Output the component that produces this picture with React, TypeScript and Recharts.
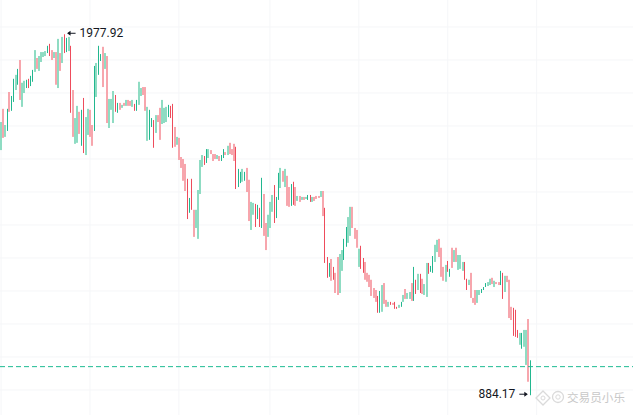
import { ComposedChart, Bar, XAxis, YAxis, CartesianGrid, ReferenceLine, ReferenceDot } from 'recharts';

// one entry per candle
const highs = [
  1712, 1752, 1703, 1752, 1803, 1791, 1843, 1855, 1873, 1900,
  1831, 1837, 1840, 1843, 1852, 1870, 1930, 1906, 1912, 1924,
  1924, 1927, 1943, 1949, 1930, 1924, 1924, 1964, 1921, 1970,
  1977.92, 1967, 1970, 1943, 1809, 1724, 1761, 1743, 1749, 1785,
  1727, 1752, 1749, 1703, 1882, 1891, 1943, 1918, 1940, 1921,
  1912, 1782, 1782, 1806, 1794, 1770, 1770, 1764, 1770, 1779,
  1779, 1776, 1779, 1767, 1779, 1834, 1815, 1818, 1818, 1758,
  1749, 1724, 1718, 1733, 1733, 1755, 1779, 1755, 1758, 1764,
  1761, 1767, 1697, 1667, 1664, 1606, 1600, 1585, 1540, 1482,
  1540, 1446, 1446, 1506, 1597, 1612, 1609, 1630, 1630, 1627,
  1615, 1615, 1612, 1609, 1612, 1630, 1621, 1640, 1649, 1630,
  1646, 1637, 1570, 1561, 1570, 1561, 1573, 1537, 1470, 1467,
  1464, 1461, 1452, 1543, 1494, 1406, 1431, 1470, 1491, 1521,
  1485, 1558, 1573, 1564, 1570, 1549, 1515, 1524, 1531, 1515,
  1488, 1488, 1485, 1485, 1485, 1491, 1491, 1485, 1485, 1488,
  1488, 1503, 1503, 1452, 1303, 1285, 1297, 1273, 1255, 1303,
  1312, 1324, 1358, 1394, 1424, 1455, 1455, 1391, 1385, 1328,
  1337, 1300, 1288, 1255, 1249, 1234, 1209, 1203, 1185, 1200,
  1218, 1224, 1173, 1167, 1167, 1164, 1167, 1152, 1158, 1167,
  1188, 1206, 1194, 1197, 1224, 1273, 1234, 1252, 1252, 1237,
  1221, 1285, 1285, 1276, 1306, 1340, 1355, 1358, 1331, 1273,
  1279, 1291, 1267, 1331, 1324, 1331, 1309, 1309, 1288, 1288,
  1237, 1234, 1255, 1179, 1203, 1203, 1203, 1206, 1212, 1224,
  1227, 1237, 1240, 1231, 1227, 1227, 1261, 1255, 1246, 1246,
  1234, 1152, 1149, 1143, 1082, 1073, 1073, 1082, 1082, 1115,
  990,
];
const lows = [
  1627, 1664, 1667, 1685, 1743, 1746, 1773, 1809, 1825, 1779,
  1758, 1800, 1815, 1815, 1821, 1834, 1864, 1873, 1867, 1894,
  1909, 1912, 1921, 1912, 1900, 1906, 1825, 1815, 1867, 1891,
  1921, 1924, 1927, 1740, 1667, 1646, 1649, 1676, 1640, 1618,
  1612, 1673, 1667, 1640, 1685, 1788, 1855, 1897, 1818, 1873,
  1709, 1694, 1749, 1709, 1743, 1740, 1749, 1755, 1761, 1761,
  1761, 1761, 1758, 1746, 1746, 1764, 1791, 1794, 1746, 1655,
  1658, 1697, 1634, 1679, 1712, 1658, 1706, 1709, 1712, 1727,
  1724, 1634, 1637, 1643, 1597, 1573, 1534, 1503, 1418, 1437,
  1446, 1364, 1391, 1358, 1494, 1576, 1582, 1588, 1603, 1615,
  1594, 1600, 1600, 1594, 1594, 1603, 1612, 1612, 1615, 1612,
  1594, 1509, 1515, 1527, 1531, 1534, 1500, 1412, 1385, 1431,
  1394, 1418, 1394, 1391, 1367, 1324, 1364, 1391, 1440, 1406,
  1421, 1476, 1512, 1531, 1515, 1458, 1455, 1458, 1461, 1458,
  1473, 1470, 1476, 1476, 1479, 1476, 1470, 1470, 1473, 1479,
  1482, 1485, 1427, 1285, 1240, 1243, 1231, 1234, 1194, 1188,
  1194, 1261, 1294, 1334, 1346, 1367, 1391, 1358, 1331, 1273,
  1267, 1255, 1234, 1228, 1212, 1185, 1179, 1167, 1134, 1134,
  1137, 1161, 1152, 1152, 1158, 1158, 1146, 1146, 1149, 1152,
  1167, 1176, 1176, 1176, 1170, 1170, 1191, 1203, 1194, 1191,
  1188, 1182, 1252, 1258, 1255, 1288, 1318, 1303, 1243, 1231,
  1228, 1258, 1243, 1270, 1288, 1288, 1264, 1267, 1261, 1234,
  1203, 1218, 1179, 1164, 1158, 1164, 1188, 1194, 1203, 1212,
  1215, 1218, 1221, 1212, 1221, 1218, 1218, 1176, 1197, 1227,
  1118, 1112, 1064, 1061, 1058, 1037, 1025, 1031, 976, 925,
  884.17,
];
// G/R thin saturated candle, g/r wide pale candle
const tones = [
  'grgGrGGgGr', 'ggGRGGgrgg', 'ggGRrgrgrg', 'RGgRrggrGR',
  'ggrrGgGGrg', 'rgggRGrgrg', 'rrgRGggrrg', 'GGRgrrgggG',
  'RRrgrrrrRG', 'RrggggRGgr', 'rrgrGGrgrr', 'rRGGgGrrgg',
  'RGRGrrgggR', 'GGgrgrrGRr', 'grgrgGRgrr', 'rgrRRGrRrr',
  'ggGGggrrrg', 'RRrrrrrrRG', 'grrgRrRRgG', 'grggrGRgRr',
  'ggRGGggrrr', 'gRGrgrgggR', 'RgrrrggGGG', 'ggrgrrGRgr',
  'rrRRRgGggr', 'G',
].join('').split('');

const gridTicks = [0, 42, 84, 127, 169, 211, 253];
const priceTicks = [900, 1000, 1100, 1200, 1300, 1400, 1500, 1600, 1700, 1800, 1900, 2000];
const slotCount = 299;
const currentPrice = 970.7;
const topMark = { index: 30, value: 1977.92 };
const lowMark = { index: 250, value: 884.17 };

const toneColors: Record<string, string> = { G: '#22b78f', g: '#8fdcc3', R: '#ee4c5c', r: '#f7a6ad' };

const data = Array.from({ length: slotCount }, (_, i) => ({
  day: i,
  tone: tones[i],
  range: i < highs.length ? [lows[i], highs[i]] : null,
}));

function Candle(props: any) {
  const { x, y, width, height, payload } = props;
  if (!payload.range) return null;
  const thin = payload.tone === 'G' || payload.tone === 'R';
  const w = thin ? 1 : 2;
  return (
    <rect
      x={Math.round(x + width / 2 - w / 2)}
      y={y}
      width={w}
      height={Math.max(height, 1)}
      fill={toneColors[payload.tone]}
    />
  );
}

function PriceMark({ cx, cy, label, side }: any) {
  const dir = side === 'right' ? 1 : -1;
  const tip = cx + dir * 3.5;
  const tail = cx + dir * 11;
  return (
    <g>
      <line x1={tip} y1={cy - 1} x2={tail} y2={cy - 1} stroke="#131722" strokeWidth={1} />
      <path d={`M${tip - dir} ${cy - 1} l${dir * 3.5} -2.5 v5 z`} fill="#131722" />
      <text
        x={cx + dir * 15}
        y={cy - 1.5}
        fill="#131722"
        fontSize={12}
        fontFamily="Roboto, sans-serif"
        textAnchor={side === 'right' ? 'start' : 'end'}
        dominantBaseline="central"
      >
        {label}
      </text>
    </g>
  );
}

function Watermark() {
  return (
    <g stroke="#dadada" fill="none">
      <path d="M543 391 l7 7 l-7 7 l-7 -7 z" strokeWidth={1.3} />
      <circle cx={543} cy={398} r={2} strokeWidth={1} />
      <circle cx={558} cy={397} r={5.5} strokeWidth={1.3} />
      <circle cx={558} cy={397} r={2.2} strokeWidth={1} />
      <text x={567} y={397} fill="#c8c8c8" stroke="none" fontSize={11.6} fontFamily="'Noto Sans CJK SC'" dominantBaseline="central">
        交易员小乐
      </text>
    </g>
  );
}

export default function App() {
  return (
    <div style={{ position: 'absolute', left: 0, top: 0, width: 633, height: 415, background: '#fff' }}>
      <ComposedChart width={633} height={415} data={data} margin={{ top: 0, right: 0, bottom: 0, left: 0 }} barCategoryGap={0}>
        <CartesianGrid stroke="#f5f6f8" syncWithTicks />
        <XAxis dataKey="day" hide ticks={gridTicks} interval={0} />
        <YAxis hide domain={[824.2, 2081.8]} ticks={priceTicks} allowDataOverflow />
        <Watermark />
        <ReferenceLine y={currentPrice} stroke="#1dbb92" strokeDasharray="5 3" />
        <Bar dataKey="range" barSize={2} shape={Candle} isAnimationActive={false} />
        <ReferenceDot
          x={topMark.index}
          y={topMark.value}
          ifOverflow="visible"
          shape={(p: any) => <PriceMark {...p} label={topMark.value.toFixed(2)} side="right" />}
        />
        <ReferenceDot
          x={lowMark.index}
          y={lowMark.value}
          ifOverflow="visible"
          shape={(p: any) => <PriceMark {...p} label={lowMark.value.toFixed(2)} side="left" />}
        />
      </ComposedChart>
    </div>
  );
}
